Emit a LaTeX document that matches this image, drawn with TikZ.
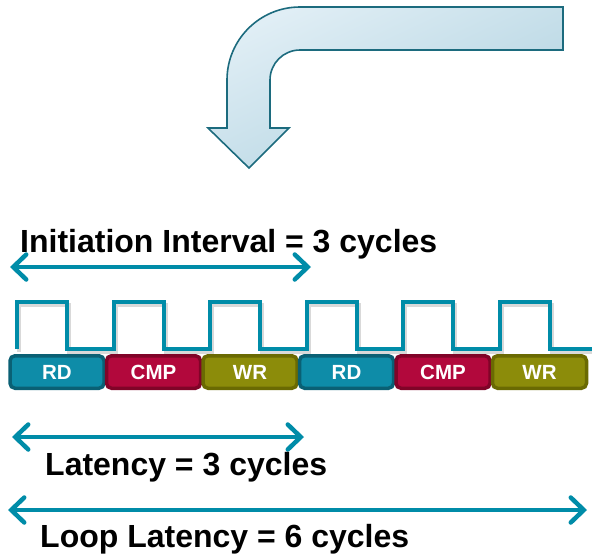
\documentclass[tikz,border=0pt]{standalone}
\usepackage{fontspec}
\setmainfont{Liberation Sans}
\usetikzlibrary{arrows.meta}
\definecolor{teal1}{RGB}{0,140,168}
\definecolor{arrowedge}{RGB}{28,107,126}
\definecolor{arrowlight}{RGB}{224,238,245}
\definecolor{arrowdark}{RGB}{176,210,224}
\definecolor{rdfill}{RGB}{14,140,168}
\definecolor{rdedge}{RGB}{10,96,116}
\definecolor{cmpfill}{RGB}{178,8,60}
\definecolor{cmpedge}{RGB}{128,4,40}
\definecolor{wrfill}{RGB}{140,140,10}
\definecolor{wredge}{RGB}{106,106,2}
\tikzset{
  stagebox/.style={rounded corners=5pt, line width=3.5pt, minimum width=94pt,
    minimum height=32.5pt, inner sep=0pt, text=white,
    font=\fontsize{20.5}{24}\selectfont\bfseries},
  dimarrow/.style={draw=teal1, line width=4.5pt,
    {Straight Barb[length=13pt,width=25pt,line cap=round]}-{Straight Barb[length=13pt,width=25pt,line cap=round]}},
  biglabel/.style={anchor=base west, inner sep=0pt, font=\fontsize{32}{36}\selectfont\bfseries},
  wave/.style={draw=teal1, line width=4pt, line join=miter},
}
\begin{document}
\begin{tikzpicture}[x=1pt,y=-1pt]
\useasboundingbox (0,0) rectangle (592,555);
% bent arrow
\path[top color=arrowlight, bottom color=arrowdark, shading angle=25, draw=arrowedge, line width=1.6pt, line join=miter]
  (563,7) -- (300,7) .. controls (259.7,7) and (227,39.7) .. (227,80)
  -- (227,128) -- (208,128) -- (249,168) -- (289,128) -- (270,128) -- (270,80)
  .. controls (270,63.4) and (283.4,50) .. (300,50) -- (563,50) -- cycle;
% initiation interval
\node[biglabel] (iitext) at (20,252) {Initiation Interval = 3 cycles};
\coordinate (iil) at (10,267);
\coordinate (iir) at (311,267);
\draw[dimarrow] (iil) -- (iir);
% clock waveform shadow
\draw[wave, draw=black, opacity=0.15, shift={(2,2.5)}]
  (17,349) -- (17,302) -- (67,302) -- (67,349) -- (113.5,349) -- (113.5,302) -- (163.5,302) -- (163.5,349)
  -- (210,349) -- (210,302) -- (260,302) -- (260,349) -- (306.5,349) -- (306.5,302) -- (356.5,302) -- (356.5,349)
  -- (403,349) -- (403,302) -- (453,302) -- (453,349) -- (499.5,349) -- (499.5,302) -- (549.5,302) -- (549.5,349) -- (592,349);
\draw[wave]
  (17,349) -- (17,302) -- (67,302) -- (67,349) -- (113.5,349) -- (113.5,302) -- (163.5,302) -- (163.5,349)
  -- (210,349) -- (210,302) -- (260,302) -- (260,349) -- (306.5,349) -- (306.5,302) -- (356.5,302) -- (356.5,349)
  -- (403,349) -- (403,302) -- (453,302) -- (453,349) -- (499.5,349) -- (499.5,302) -- (549.5,302) -- (549.5,349) -- (592,349);
% stages
\node[stagebox, fill=rdfill, draw=rdedge] (rd1) at (57,372) {RD};
\node[stagebox, fill=cmpfill, draw=cmpedge] (cmp1) at (153.5,372) {CMP};
\node[stagebox, fill=wrfill, draw=wredge] (wr1) at (250,372) {WR};
\node[stagebox, fill=rdfill, draw=rdedge] (rd2) at (346.5,372) {RD};
\node[stagebox, fill=cmpfill, draw=cmpedge] (cmp2) at (443,372) {CMP};
\node[stagebox, fill=wrfill, draw=wredge] (wr2) at (539.5,372) {WR};
% latency
\coordinate (latl) at (12,437);
\coordinate (latr) at (304,437);
\draw[dimarrow] (latl) -- (latr);
\node[biglabel] (lattext) at (45,475) {Latency = 3 cycles};
% loop latency
\coordinate (loopl) at (8,510);
\coordinate (loopr) at (587,510);
\draw[dimarrow] (loopl) -- (loopr);
\node[biglabel] (looptext) at (40,547.5) {Loop Latency = 6 cycles};
\end{tikzpicture}
\end{document}
